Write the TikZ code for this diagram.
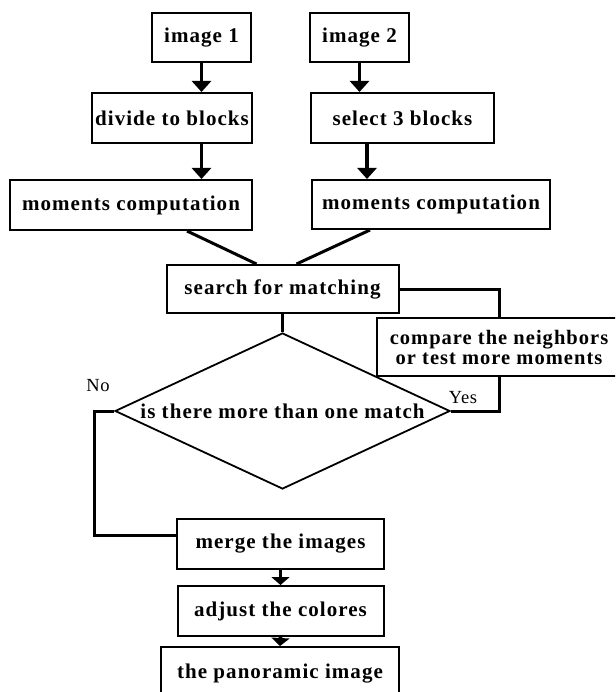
\documentclass[tikz,border=0pt]{standalone}
\usepackage{fontspec}
\setmainfont{Liberation Serif}
\newfontfamily\boxfont[LetterSpace=5]{Liberation Serif}
\newfontfamily\lblfont[LetterSpace=4]{Liberation Serif}
\usetikzlibrary{shapes.geometric,arrows.meta,calc}
\begin{document}
\begin{tikzpicture}[x=1pt,y=-1pt,
  box/.style={draw,line width=2pt,inner sep=0pt,align=center,
    font=\boxfont\bfseries\fontsize{21}{18}\selectfont},
  twoline/.style={font=\boxfont\bfseries\fontsize{20.5}{20}\selectfont},
  decision/.style={draw,diamond,line width=1.8pt,inner sep=0pt,aspect=2.15,
    font=\boxfont\bfseries\fontsize{21}{18}\selectfont},
  lbl/.style={inner sep=0pt,font=\lblfont\fontsize{18.5}{18}\selectfont},
  arr/.style={line width=3.8pt,-{Triangle[width=19pt,length=11pt]}},
  arrsmall/.style={line width=3.8pt,-{Triangle[width=18pt,length=8pt]}},
  conn/.style={line width=3pt}]
\useasboundingbox (0,0) rectangle (615,692);
\clip (0,0) rectangle (615,692);
\fill[white] (0,0) rectangle (615,692);

\node[box,minimum width=99pt,minimum height=49pt] (img1) at (201.5,37.5) {image 1};
\node[box,minimum width=99pt,minimum height=49pt] (img2) at (359.5,37.5) {image 2};
\node[box,minimum width=160pt,minimum height=50pt] (div) at (172,118) {divide to blocks};
\node[box,minimum width=183pt,minimum height=50pt] (sel) at (402.5,118) {select 3 blocks};
\node[box,minimum width=242pt,minimum height=50pt] (mom1) at (131,205) {moments computation};
\node[box,minimum width=238pt,minimum height=49pt] (mom2) at (431,204.5) {moments computation};
\node[box,minimum width=232pt,minimum height=48pt] (search) at (282.5,289) {search for matching};
\node[box,twoline,minimum width=244pt,minimum height=58pt] (compare) at (499,347) {compare the neighbors\\or test more moments};
\node[decision,minimum width=335pt,minimum height=156pt] (dec) at (282.5,411) {is there more than one match};
\node[box,minimum width=207pt,minimum height=50pt] (merge) at (280.5,544) {merge the images};
\node[box,minimum width=206pt,minimum height=50pt] (adjust) at (280.5,611) {adjust the colores};
\node[box,minimum width=238pt,minimum height=53pt] (pano) at (280,673.5) {the panoramic image};

\node[lbl] (no) at (98,386) {No};
\node[lbl] (yes) at (463,398) {Yes};

\coordinate (sx) at (367,150);
\draw[arr] (img1.south) -- (img1.south |- div.north);
\draw[arr] (img2.south) -- (img2.south |- sel.north);
\draw[arr] (div.south -| img1.south) -- (mom1.north -| img1.south);
\draw[arr] (sel.south -| sx) -- (mom2.north -| sx);

\draw[conn] ($(mom1.south)+(56,0)$) -- ($(search.north)+(-26,0)$);
\draw[conn] ($(mom2.south)+(-61,0)$) -- ($(search.north)+(14,0)$);

\draw[conn] (search.east) -| (compare.north);
\draw[conn] (compare.south) |- (dec.east);
\draw[conn] (search.south) -- (dec.north);
\draw[conn] (dec.west) -- ++(-20,0) |- ($(merge.west)+(0,-9)$);

\draw[arrsmall] (merge.south) -- (adjust.north);
\draw[arrsmall] (adjust.south) -- (pano.north);
\end{tikzpicture}
\end{document}
